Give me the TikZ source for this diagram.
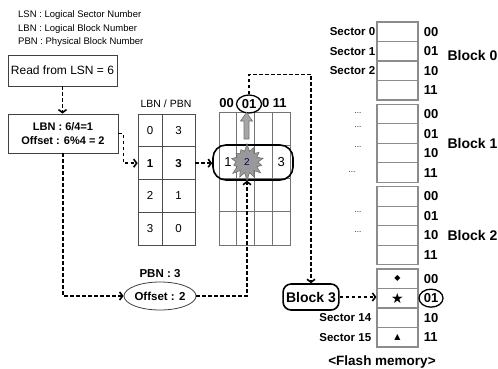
\documentclass[tikz,border=0pt]{standalone}
\usepackage{fontspec}
\setmainfont{Liberation Sans}
\newfontfamily\symfont{DejaVu Sans}
\usetikzlibrary{arrows.meta,positioning,shapes.geometric,shapes.symbols}

\begin{document}
\begin{tikzpicture}[x=1pt,y=-1pt,
    flow/.style={line width=1.6pt,dash pattern=on 3.5pt off 2.5pt,-{Straight Barb[length=3pt,width=8pt]}},
    txtbox/.style={draw=black!75,line width=0.8pt,inner sep=0pt},
    tabcell/.style={draw=black!70,line width=0.7pt,minimum width=#1,minimum height=32.75pt,inner sep=0pt,font=\fontsize{11.5}{13}\selectfont},
    gridcell/.style={draw=black!55,line width=0.6pt,minimum width=17.75pt,minimum height=33.25pt,inner sep=0pt},
    sectorcell/.style={draw=black!45,line width=1.2pt,minimum width=41pt,minimum height=19.5pt,inner sep=0pt},
    bitlabel/.style={font=\bfseries\fontsize{13}{15}\selectfont,inner sep=0pt},
    ]
    \useasboundingbox (0,0) rectangle (498,368);
    % legend
    \node[anchor=west,inner sep=0pt,font=\fontsize{9.5}{11}\selectfont] (keyLSN) at (18,15) {LSN : Logical Sector Number};
    \node[anchor=west,inner sep=0pt,font=\fontsize{9.5}{11}\selectfont] (keyLBN) at (18,29) {LBN : Logical Block Number};
    \node[anchor=west,inner sep=0pt,font=\fontsize{9.5}{11}\selectfont] (keyPBN) at (18,42.5) {PBN : Physical Block Number};
    % request and address calculation
    \node[txtbox,minimum width=109pt,minimum height=31pt,font=\fontsize{12}{14}\selectfont] (read) at (62.5,70.5) {Read from LSN = 6};
    \node[txtbox,minimum width=110pt,minimum height=39pt,align=center,font=\bfseries\fontsize{11}{13.5}\selectfont] (calc) at (63,133.5) {LBN : 6/4=1\\Offset : 6\%4 = 2};
    \draw[flow] (read.south) -- (read.south |- calc.north);
    % mapping table
    \node[font=\fontsize{10.5}{12}\selectfont] (head) at (166,104) {LBN / PBN};
    \foreach \lb/\pb/\w [count=\i from 0] in {0/3/\mdseries,1/3/\bfseries,2/1/\mdseries,3/0/\mdseries}{
        \node[tabcell=24pt] (lbn\i) at (150,130.4+32.75*\i) {\w\lb};
        \node[tabcell=33pt] (pbn\i) at (178.5,130.4+32.75*\i) {\w\pb};
    }
    \draw[flow] (calc.east) -- ++(5,0) |- (lbn1.west);
    % physical block 3
    \foreach \c in {0,...,3}
        \foreach \r in {0,...,3}
            \node[gridcell] (g\c\r) at (227.9+17.75*\c,128.6+33.25*\r) {};
    \foreach \b/\c in {00/0,10/2,11/3}
        \node[bitlabel] (col\c) at (226.5+17.75*\c,103) {\b};
    \node[bitlabel,draw,ellipse,fill=white,line width=1.3pt,minimum width=25pt,minimum height=18pt] (sel) at (249,104) {01};
    \node[draw,rounded corners=13pt,line width=1.6pt,minimum width=80pt,minimum height=35pt] (hit) at (253,162.5) {};
    \node[font=\fontsize{13}{15}\selectfont] (v1) at (g01) {1};
    \node[font=\fontsize{13}{15}\selectfont] (v3) at (g31) {3};
    \node[starburst,fill=gray!80,draw=black!60,line width=0.5pt,minimum width=38pt,minimum height=38pt,
          starburst points=14,starburst point height=8pt,random starburst=7,inner sep=0pt,
          font=\fontsize{10}{12}\selectfont,text=blue!40!black] (burst) at (247,162) {2};
    \filldraw[fill=gray!70,draw=black!55,line width=0.6pt] (244,139) -- (244,121) -- (240.5,121) -- (246.5,112.5)
        -- (252.5,121) -- (249,121) -- (249,139) -- cycle;
    \draw[flow] (pbn1.east) -- (pbn1.east -| hit.west);
    % offset path
    \node[draw=black!75,ellipse,line width=0.8pt,minimum width=71pt,minimum height=28pt,inner sep=0pt,font=\bfseries\fontsize{11.5}{13}\selectfont] (off) at (160,296) {Offset : 2};
    \node[font=\bfseries\fontsize{11.5}{13}\selectfont] (pbnlab) at (160,274) {PBN : 3};
    \draw[flow] (calc.south) |- (off.west);
    \draw[flow] (off.east) -| (burst.south |- hit.south);
    % flash memory
    \foreach \b in {0,...,3}
        \foreach \s/\bits in {0/00,1/01,2/10,3/11}{
            \node[sectorcell] (f\b\s) at (397.5,31.75+82.3*\b+19.5*\s) {};
            \node[bitlabel,anchor=west] (n\b\s) at ([xshift=5pt]f\b\s.east) {\bits};
        }
    \foreach \b/\y in {0/55,1/143,2/235}
        \node[anchor=west,font=\bfseries\fontsize{14}{16}\selectfont] (blk\b) at (444,\y) {Block \b};
    \foreach \s in {0,1,2}
        \node[anchor=east,inner sep=1pt,font=\bfseries\fontsize{11.5}{13}\selectfont] (sec\s) at (f0\s.west) {Sector \s};
    \node[anchor=east,inner sep=1pt,font=\bfseries\fontsize{11.5}{13}\selectfont] (sec14) at ([xshift=-4pt]f32.west) {Sector 14};
    \node[anchor=east,inner sep=1pt,font=\bfseries\fontsize{11.5}{13}\selectfont] (sec15) at ([xshift=-4pt]f33.west) {Sector 15};
    \foreach \x/\y [count=\k] in {358/113,358/127,358/147,352/172,358/212,358/232}
        \node[font=\fontsize{8}{9}\selectfont] (dots\k) at (\x,\y) {...};
    \node[font=\symfont\fontsize{8}{9}\selectfont] (diam) at (f30) {◆};
    \node[font=\symfont\fontsize{14}{15}\selectfont] (star) at (f31) {★};
    \node[font=\symfont\fontsize{8}{9}\selectfont] (tri) at (f33) {▲};
    \draw[line width=1.3pt] (n31) ellipse (12pt and 9pt);
    \node[draw,rounded corners=8pt,line width=1.6pt,minimum height=26pt,inner xsep=3pt,font=\bfseries\fontsize{14}{16}\selectfont] (blk3) at (311,297) {Block 3};
    \draw[flow] (sel.north) -- ++(0,-20) -| (blk3.north);
    \draw[flow] (blk3.east) -- (blk3.east -| f31.west);
    \node[font=\bfseries\fontsize{13.5}{15}\selectfont] (caption) at (382,362) {<Flash memory>};
\end{tikzpicture}
\end{document}
